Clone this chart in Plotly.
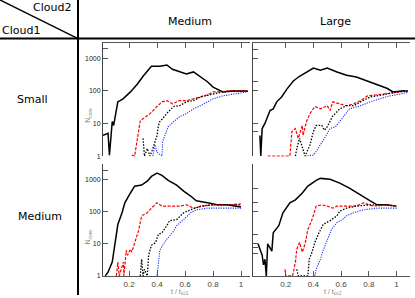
import plotly.graph_objects as go

# ---------------- data ----------------
# Top-left panel: Cloud1 Small / Cloud2 Medium
tl_black_x = [0.014, 0.05, 0.06, 0.08, 0.09, 0.10, 0.12, 0.136, 0.157, 0.21, 0.26, 0.30, 0.34, 0.36, 0.42, 0.47, 0.51, 0.56, 0.61, 0.66, 0.71, 0.76, 0.80, 0.87, 0.94, 1.01, 1.05]
tl_black_y = [4.3, 5.0, 1.07, 11.5, 8.7, 17, 46, 50, 57, 93, 163, 280, 465, 570, 570, 620, 460, 400, 330, 380, 265, 190, 130, 93, 100, 100, 98]
tl_red_x = [0.22, 0.24, 0.26, 0.28, 0.30, 0.35, 0.40, 0.435, 0.47, 0.51, 0.56, 0.61, 0.66, 0.71, 0.76, 0.80, 0.85, 0.92, 1.01, 1.05]
tl_red_y = [1.07, 1.0, 3.5, 12, 14, 20, 33, 46, 50, 40, 50, 50, 57, 65, 75, 93, 93, 100, 100, 100]
tl_dot_x = [0.30, 0.31, 0.33, 0.35, 0.37, 0.40, 0.41, 0.42, 0.44, 0.48, 0.52, 0.56, 0.61, 0.66, 0.71, 0.76, 0.80, 0.87, 0.97, 1.04]
tl_dot_y = [3.5, 1.0, 1.7, 1.0, 1.7, 4.3, 8.7, 11.5, 14, 23, 33, 35, 46, 50, 65, 75, 80, 93, 100, 100]
tl_blue_x = [0.37, 0.385, 0.40, 0.435, 0.44, 0.46, 0.48, 0.52, 0.56, 0.61, 0.66, 0.71, 0.76, 0.80, 0.87, 0.94, 1.04]
tl_blue_y = [1.0, 2.2, 1.3, 1.0, 2.8, 5, 8, 11.5, 16, 20, 28, 35, 46, 57, 70, 80, 93]

# Top-right panel: Cloud1 Small / Cloud2 Large
tr_black_x = [0.014, 0.02, 0.03, 0.05, 0.087, 0.11, 0.135, 0.17, 0.21, 0.255, 0.30, 0.35, 0.40, 0.45, 0.50, 0.57, 0.64, 0.71, 0.79, 0.86, 0.93, 0.975, 1.05, 1.08]
tr_black_y = [4.3, 1.0, 7, 10, 25, 28, 46, 65, 115, 200, 280, 380, 500, 430, 500, 380, 300, 265, 200, 160, 120, 93, 100, 95]
tr_red_x = [0.07, 0.09, 0.23, 0.245, 0.27, 0.29, 0.32, 0.325, 0.35, 0.375, 0.41, 0.45, 0.50, 0.52, 0.54, 0.59, 0.64, 0.69, 0.74, 0.79, 0.86, 0.93, 1.03, 1.08]
tr_red_y = [1.0, 1.0, 1.0, 5.7, 7, 3.5, 8.7, 4.3, 11.5, 20, 33, 28, 35, 25, 46, 40, 35, 40, 50, 70, 75, 80, 93, 100]
tr_dot_x = [0.27, 0.28, 0.30, 0.34, 0.375, 0.40, 0.42, 0.46, 0.48, 0.50, 0.54, 0.59, 0.64, 0.69, 0.74, 0.81, 0.90, 1.00, 1.08]
tr_dot_y = [1.0, 1.7, 3.5, 1.0, 2.2, 5.7, 8.7, 8.7, 6.2, 8, 17, 28, 35, 35, 46, 65, 75, 93, 100]
tr_blue_x = [0.34, 0.40, 0.42, 0.45, 0.48, 0.52, 0.56, 0.59, 0.63, 0.66, 0.74, 0.81, 0.88, 0.95, 1.03, 1.08]
tr_blue_y = [1.0, 1.07, 1.4, 2.2, 3.5, 7, 8, 11.5, 20, 28, 35, 46, 57, 70, 80, 90]

# Bottom-left panel: Cloud1 Medium / Cloud2 Medium
bl_black_x = [0.03, 0.05, 0.08, 0.09, 0.11, 0.12, 0.15, 0.17, 0.21, 0.24, 0.29, 0.33, 0.36, 0.40, 0.435, 0.48, 0.54, 0.59, 0.64, 0.68, 0.76, 0.83, 0.90, 0.97, 1.00]
bl_black_y = [1.0, 1.3, 2.7, 5.5, 20, 40, 93, 190, 385, 630, 680, 900, 1270, 1600, 1370, 960, 680, 440, 310, 220, 190, 165, 165, 150, 140]
bl_red_x = [0.11, 0.12, 0.13, 0.15, 0.16, 0.163, 0.18, 0.19, 0.21, 0.22, 0.24, 0.27, 0.29, 0.33, 0.36, 0.40, 0.435, 0.49, 0.56, 0.61, 0.66, 0.73, 0.80, 0.90, 1.00]
bl_red_y = [1.0, 2.7, 1.0, 2.2, 2.7, 1.0, 6.3, 4.4, 6.8, 5.5, 11, 28, 75, 93, 130, 190, 150, 150, 150, 165, 130, 150, 165, 165, 175]
bl_dot_x = [0.28, 0.29, 0.30, 0.31, 0.33, 0.34, 0.36, 0.39, 0.41, 0.435, 0.47, 0.49, 0.54, 0.59, 0.64, 0.71, 0.80, 0.90, 1.00]
bl_dot_y = [1.0, 3.3, 1.0, 1.6, 1.0, 4.4, 9, 11, 20, 22, 37, 53, 57, 93, 115, 150, 165, 165, 165]
bl_blue_x = [0.40, 0.41, 0.42, 0.44, 0.47, 0.51, 0.54, 0.59, 0.64, 0.68, 0.76, 0.85, 1.00]
bl_blue_y = [1.0, 3.3, 6.3, 9, 14, 22, 37, 57, 93, 115, 130, 130, 130]

# Bottom-right panel: Cloud1 Medium / Cloud2 Large
br_black_x = [0.0, 0.03, 0.04, 0.05, 0.06, 0.07, 0.10, 0.11, 0.15, 0.18, 0.23, 0.27, 0.32, 0.36, 0.42, 0.45, 0.52, 0.59, 0.66, 0.74, 0.81, 0.86, 0.93, 1.00]
br_black_y = [10, 4.4, 2.2, 3.3, 1.0, 10, 5.9, 22, 37, 93, 190, 235, 385, 630, 960, 1100, 1030, 780, 550, 330, 220, 165, 165, 150]
br_red_x = [0.195, 0.20, 0.25, 0.27, 0.28, 0.30, 0.32, 0.34, 0.36, 0.39, 0.42, 0.46, 0.50, 0.54, 0.57, 0.64, 0.71, 0.76, 0.83, 0.93, 1.00]
br_red_y = [1.6, 1.0, 1.0, 2.7, 6.8, 11, 5.5, 10, 28, 57, 150, 165, 150, 130, 150, 150, 150, 190, 150, 165, 150]
br_dot_x = [0.28, 0.29, 0.36, 0.37, 0.39, 0.41, 0.44, 0.47, 0.52, 0.57, 0.59, 0.64, 0.71, 0.81, 0.90, 1.00]
br_dot_y = [1.6, 1.0, 1.0, 3.3, 5.5, 11, 22, 40, 53, 75, 105, 130, 150, 165, 165, 150]
br_blue_x = [0.41, 0.42, 0.45, 0.47, 0.50, 0.53, 0.57, 0.60, 0.64, 0.69, 0.76, 0.86, 1.00]
br_blue_y = [1.0, 1.6, 3.3, 6.3, 13, 28, 46, 53, 75, 93, 115, 130, 130]

col_headers = ["Medium", "Large"]
row_headers = ["Small", "Medium"]
y_tickvals = [1, 10, 100, 1000, 2000]
y_ticktext = ["1", "10", "100", "1000", ""]
x_tickvals = [0.2, 0.4, 0.6, 0.8, 1.0]
x_ticktext = ["0.2", "0.4", "0.6", "0.8", "1"]
right_top_ticks = [5.7, 10, 100, 200, 1000, 1900]
right_bot_ticks = [4.9, 7.5, 10, 20, 100, 200, 530]

# ---------------- figure ----------------
W, H = 415, 298
fig = go.Figure()

def px_x(p):
    return p / W

def px_y(p):
    return 1 - p / H

panels = {
    "tl": ("x", "y", [(tl_black_x, tl_black_y), (tl_red_x, tl_red_y), (tl_dot_x, tl_dot_y), (tl_blue_x, tl_blue_y)]),
    "tr": ("x2", "y2", [(tr_black_x, tr_black_y), (tr_red_x, tr_red_y), (tr_dot_x, tr_dot_y), (tr_blue_x, tr_blue_y)]),
    "bl": ("x3", "y3", [(bl_black_x, bl_black_y), (bl_red_x, bl_red_y), (bl_dot_x, bl_dot_y), (bl_blue_x, bl_blue_y)]),
    "br": ("x4", "y4", [(br_black_x, br_black_y), (br_red_x, br_red_y), (br_dot_x, br_dot_y), (br_blue_x, br_blue_y)]),
}
styles = [
    dict(color="black", width=1.5, dash="solid"),
    dict(color="#ff0000", width=1.2, dash="3px,1.5px"),
    dict(color="black", width=1.3, dash="1.5px,1.5px"),
    dict(color="#2030ff", width=1.1, dash="1.2px,1.2px"),
]
for name, (xa, ya, series) in panels.items():
    for (xs, ys), st in zip(series, styles):
        fig.add_trace(go.Scatter(x=xs, y=ys, mode="lines", line=st,
                                 xaxis=xa, yaxis=ya, showlegend=False,
                                 hoverinfo="skip"))

left_dom = [px_x(103), px_x(250)]
right_dom = [px_x(253), px_x(410)]
top_dom = [px_y(158), px_y(43)]
bot_dom = [px_y(279), px_y(166)]
left_rng = [0.014, 1.064]
right_rng = [-0.036, 1.097]
yrng = [-0.01, 3.48]

tickfont = dict(family="Liberation Sans, Arial, sans-serif", size=7, color="#222")
xtickfont = dict(family="Liberation Sans, Arial, sans-serif", size=8, color="#444")

def xax(dom, rng, anchor, top):
    d = dict(domain=dom, range=rng, anchor=anchor, showgrid=False, zeroline=False,
             showline=True, linecolor="#555", linewidth=1,
             ticks="inside", ticklen=5, tickcolor="#555",
             tickvals=x_tickvals, ticktext=x_ticktext, tickfont=xtickfont)
    if top:
        d.update(side="top", showticklabels=False)
    else:
        d.update(side="bottom", showticklabels=True)
    return d

def yax(dom, anchor, labels, tv=None):
    d = dict(domain=dom, type="log", range=yrng, anchor=anchor, showgrid=False,
             zeroline=False, showline=True, linecolor="#444", linewidth=1,
             ticks="inside", ticklen=5, tickcolor="#555", tickfont=tickfont)
    if labels:
        d.update(tickvals=y_tickvals, ticktext=y_ticktext, showticklabels=True)
    else:
        d.update(tickvals=tv, showticklabels=False)
    return d

fig.update_layout(
    width=W, height=H,
    margin=dict(l=0, r=0, t=0, b=0),
    paper_bgcolor="white", plot_bgcolor="white",
    xaxis=xax(left_dom, left_rng, "y", True),
    yaxis=yax(top_dom, "x", True),
    xaxis2=xax(right_dom, right_rng, "y2", True),
    yaxis2=yax(top_dom, "x2", False, right_top_ticks),
    xaxis3=xax(left_dom, left_rng, "y3", False),
    yaxis3=yax(bot_dom, "x3", True),
    xaxis4=xax(right_dom, right_rng, "y4", False),
    yaxis4=yax(bot_dom, "x4", False, right_bot_ticks),
)

# table lines
line = dict(color="black", width=2)
fig.add_shape(type="line", xref="paper", yref="paper", x0=px_x(78), x1=px_x(78), y0=0, y1=1, line=line)
fig.add_shape(type="line", xref="paper", yref="paper", x0=0, x1=1, y0=px_y(39), y1=px_y(39), line=line)
fig.add_shape(type="line", xref="paper", yref="paper", x0=0, x1=px_x(78), y0=1, y1=px_y(39), line=dict(color="black", width=1.5))

hfont = dict(family="DejaVu Sans, sans-serif", size=11, color="black")

def ann(text, x, y, font, **kw):
    fig.add_annotation(text=text, x=px_x(x), y=px_y(y), xref="paper", yref="paper",
                       xanchor="center", yanchor="middle",
                       showarrow=False, font=font, **kw)

ann("Cloud2", 52, 8, hfont)
ann("Cloud1", 21, 31, hfont)
ann(col_headers[0], 190, 22, hfont)
ann(col_headers[1], 335, 22, hfont)
ann(row_headers[0], 32, 101, hfont)
ann(row_headers[1], 40, 219, hfont)

gfont = dict(family="Liberation Sans, Arial, sans-serif", size=7, color="#888")
ann("N<sub>core</sub>", 88, 117, gfont, textangle=-90)
ann("N<sub>core</sub>", 88, 240, gfont, textangle=-90)
ann("t / t<sub>cc1</sub>", 180, 295, gfont)
ann("t / t<sub>cc2</sub>", 333, 295, gfont)

fig.write_html("out.html", config={"displayModeBar": False},
               post_script="document.body.style.margin='0';document.body.style.overflow='hidden';")
